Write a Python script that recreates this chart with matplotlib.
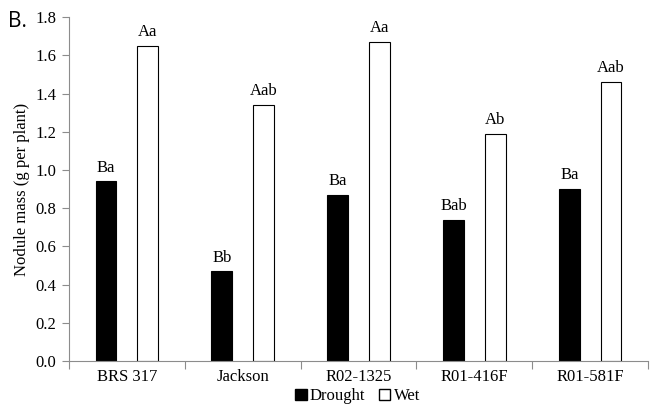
import numpy as np
import matplotlib
matplotlib.use("Agg")
import matplotlib.pyplot as plt
from matplotlib.patches import Patch

genotypes = ["BRS 317", "Jackson", "R02-1325", "R01-416F", "R01-581F"]
drought = [0.94, 0.47, 0.87, 0.74, 0.90]
wet = [1.65, 1.34, 1.67, 1.19, 1.46]
drought_labels = ["Ba", "Bb", "Ba", "Bab", "Ba"]
wet_labels = ["Aa", "Aab", "Aa", "Ab", "Aab"]

serif = "Liberation Serif"
grey = "#8c8c8c"

fig = plt.figure(figsize=(6.5, 4.08), dpi=100)
ax = fig.add_axes([0.106, 0.115, 0.891, 0.843])

x = np.arange(len(genotypes))
w = 0.18
off = 0.18
ax.bar(x - off, drought, w, color="black", edgecolor="black", linewidth=0.8)
ax.bar(x + off, wet, w, color="white", edgecolor="black", linewidth=0.8)

for xi, v, t in zip(x - off, drought, drought_labels):
    ax.text(xi, v + 0.03, t, ha="center", va="bottom", family=serif, fontsize=12)
for xi, v, t in zip(x + off, wet, wet_labels):
    ax.text(xi, v + 0.03, t, ha="center", va="bottom", family=serif, fontsize=12)

ax.set_xlim(-0.5, len(genotypes) - 0.5)
ax.set_ylim(0, 1.8)
ax.set_yticks(np.arange(0, 1.81, 0.2))
ax.set_yticklabels([f"{v:.1f}" for v in np.arange(0, 1.81, 0.2)], family=serif, fontsize=12)

# category labels centered, tick marks at category boundaries
ax.set_xticks(np.arange(-0.5, len(genotypes), 1.0))
ax.set_xticklabels([])
ax.set_xticks(x, minor=True)
ax.set_xticklabels(genotypes, minor=True, family=serif, fontsize=12)
ax.tick_params(axis="x", which="minor", length=0, pad=6)
ax.tick_params(axis="x", which="major", length=6, color=grey)
ax.tick_params(axis="y", length=5, color=grey, pad=4)

for s in ["top", "right"]:
    ax.spines[s].set_visible(False)
for s in ["left", "bottom"]:
    ax.spines[s].set_color(grey)

ax.set_ylabel("Nodule mass (g per plant)", family=serif, fontsize=12, labelpad=4)

handles = [Patch(facecolor="black", edgecolor="black"),
           Patch(facecolor="white", edgecolor="black")]
fig.legend(handles, ["Drought", "Wet"], loc="lower center", bbox_to_anchor=(0.55, -0.028),
           ncol=2, frameon=False, prop={"family": serif, "size": 12},
           handlelength=0.7, handleheight=0.7, handletextpad=0.2, columnspacing=0.8)

fig.text(0.012, 0.935, "B.", family="Open Sans", fontsize=15)

fig.savefig("out.png", dpi=100)
